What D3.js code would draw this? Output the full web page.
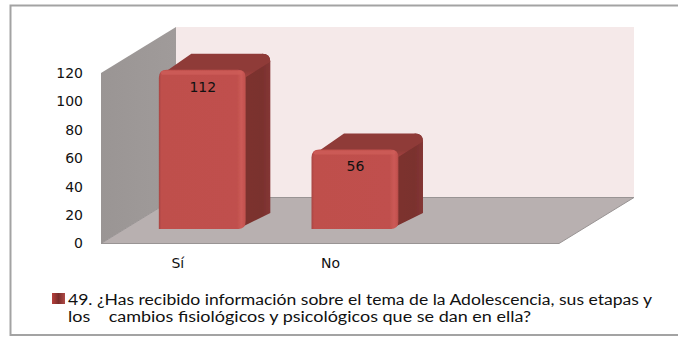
<!DOCTYPE html>
<html>
<head>
<meta charset="utf-8">
<script src="https://cdn.jsdelivr.net/npm/d3@7"></script>
<style>
html, body { margin: 0; padding: 0; background: #fff; }
svg { display: block; }
text { font-family: "DejaVu Sans", sans-serif; fill: #111; }
</style>
</head>
<body>
<svg id="chart" width="678" height="337"></svg>
<script>
var categories = ["Sí", "No", ""];
var values = [112, 56];
var yTicks = [0, 20, 40, 60, 80, 100, 120];
var legendLines = [
    "49. ¿Has recibido información sobre el tema de la Adolescencia, sus etapas y",
    "los    cambios fisiológicos y psicológicos que se dan en ella?"
];

var width = 678, height = 337;
var x0 = 101, x1 = 559, yBase = 243.5, yTop = 73;
var wallDx = 75, wallDy = -46;   // how far back the walls go
var barDx = 24.5, barDy = -16;   // depth of a bar
var barShiftX = 25, barShiftY = -14.5; // bars stand a bit into the floor
var barWidth = 87, r = 8;

var svg = d3.select("#chart");
var defs = svg.append("defs");

var x = d3.scaleBand().domain(categories).range([x0, x1]);
var y = d3.scaleLinear().domain([0, 120]).range([yBase, yTop]);

function poly(points) {
    return d3.line()(points) + "Z";
}

function gradient(id, horizontal, stops) {
    var g = defs.append("linearGradient").attr("id", id)
        .attr("x1", 0).attr("y1", 0)
        .attr("x2", horizontal ? 1 : 0).attr("y2", horizontal ? 0 : 1);
    stops.forEach(function(s) {
        g.append("stop").attr("offset", s[0]).attr("stop-color", s[1]);
    });
}

gradient("frontGrad", true, [[0, "#a84542"], [0.03, "#bf4f4c"], [0.9, "#c0504d"], [0.95, "#cc5a56"], [0.985, "#c4524f"], [1, "#a84744"]]);
gradient("sideGrad", true, [[0, "#7c302d"], [0.75, "#7a302e"], [1, "#843735"]]);
gradient("topGrad", false, [[0, "#8f3a38"], [0.7, "#8f3a38"], [1, "#a5433f"]]);
gradient("wallGrad", true, [[0, "#9a9594"], [1, "#a09b9a"]]);
gradient("swatchGrad", true, [[0, "#b8403c"], [0.5, "#7a2c2a"], [1, "#b04a47"]]);

var soft = defs.append("filter").attr("id", "soft");
soft.append("feGaussianBlur").attr("stdDeviation", 0.5);

// frame
svg.append("path")
    .attr("d", "M" + width + ",5.5H10.5V335H" + width)
    .attr("fill", "none").attr("stroke", "#a3a3a3").attr("stroke-width", 2);

// back wall
svg.append("rect")
    .attr("x", x0 + wallDx).attr("y", yTop + wallDy)
    .attr("width", x1 - x0).attr("height", yBase - yTop - 0.5)
    .attr("fill", "#f5e9e9");

// side wall
svg.append("path")
    .attr("d", poly([[x0, yTop], [x0 + wallDx, yTop + wallDy], [x0 + wallDx, yBase + wallDy], [x0, yBase]]))
    .attr("fill", "url(#wallGrad)");

// floor
svg.append("path")
    .attr("d", poly([[x0, yBase], [x0 + wallDx, yBase + wallDy], [x1 + wallDx, yBase + wallDy], [x1, yBase]]))
    .attr("fill", "#b8b0b0").attr("stroke", "#999494").attr("stroke-width", 1);

// axis
var yAxis = d3.axisLeft(y).tickValues(yTicks).tickSize(0).tickPadding(18);
var gy = svg.append("g").attr("transform", "translate(" + x0 + ",0)").call(yAxis);
gy.select(".domain").remove();
gy.selectAll("text").attr("font-size", 14).style("font-family", '"DejaVu Sans", sans-serif');

var xAxis = d3.axisBottom(x).tickSize(0).tickPadding(15);
var gx = svg.append("g").attr("transform", "translate(0.5," + yBase + ")").call(xAxis);
gx.select(".domain").remove();
gx.selectAll("text").attr("font-size", 14).style("font-family", '"DejaVu Sans", sans-serif');

// bars
var bars = svg.selectAll("g.bar")
    .data(values)
    .enter().append("g")
    .attr("class", "bar")
    .attr("transform", function(d, i) {
        return "translate(" + (x(categories[i]) + x.bandwidth() / 2 + barShiftX - barWidth / 2) + ",0)";
    });

function barBottom() { return y(0) + barShiftY; }
function barTop(d) { return barBottom() - (y(0) - y(d)); }

var shapes = bars.append("g").attr("filter", "url(#soft)");

shapes.append("path")
    .attr("d", function(d) {
        var t = barTop(d), w = barWidth;
        return "M" + (w - r) + "," + t +
            "L" + (w - r + barDx) + "," + (t + barDy) +
            "Q" + (w + barDx) + "," + (t + barDy) + " " + (w + barDx) + "," + (t + barDy + r) +
            "V" + (barBottom() + barDy) +
            "L" + (w - r) + "," + barBottom() + "Z";
    })
    .attr("fill", "url(#sideGrad)");

shapes.append("path")
    .attr("d", function(d) {
        var t = barTop(d), w = barWidth;
        return "M" + r + "," + (t + 1) +
            "L" + (r + barDx) + "," + (t + barDy) +
            "H" + (w + barDx - r) +
            "Q" + (w + barDx) + "," + (t + barDy) + " " + (w + barDx) + "," + (t + barDy + r) +
            "L" + (w - 1) + "," + (t + r) +
            "Q" + (w - 1) + "," + (t + 1) + " " + (w - r) + "," + (t + 1) + "Z";
    })
    .attr("fill", "url(#topGrad)");

shapes.append("path")
    .attr("d", function(d) {
        var t = barTop(d), b = barBottom(), w = barWidth;
        return "M0," + b +
            "V" + (t + r) +
            "Q0," + t + " " + r + "," + t +
            "H" + (w - r) +
            "Q" + w + "," + t + " " + w + "," + (t + r) +
            "V" + (b - r) +
            "Q" + w + "," + b + " " + (w - r) + "," + b + "Z";
    })
    .attr("fill", "url(#frontGrad)");

// lighter bevel on top of the front face
shapes.append("rect")
    .attr("x", 2).attr("y", function(d) { return barTop(d) + 1; })
    .attr("width", barWidth - 5).attr("height", 4).attr("rx", 2)
    .attr("fill", "#cf5d59").attr("opacity", 0.75);

bars.append("text")
    .attr("x", barWidth / 2 + 0.5)
    .attr("y", function(d) { return barTop(d) + 22; })
    .attr("text-anchor", "middle")
    .attr("font-size", 14)
    .text(function(d) { return d; });

// legend
svg.append("rect")
    .attr("x", 52).attr("y", 293).attr("width", 13).attr("height", 11)
    .attr("fill", "url(#swatchGrad)");

var legendWidths = [584, 463];
svg.selectAll("text.legend")
    .data(legendLines)
    .enter().append("text")
    .attr("class", "legend")
    .attr("x", 68)
    .attr("y", function(d, i) { return 304.5 + i * 17.5; })
    .attr("font-size", 14.5)
    .attr("textLength", function(d, i) { return legendWidths[i]; })
    .attr("lengthAdjust", "spacingAndGlyphs")
    .style("font-family", 'Lato, sans-serif')
    .style("white-space", "pre")
    .text(function(d) { return d; });
</script>
</body>
</html>
